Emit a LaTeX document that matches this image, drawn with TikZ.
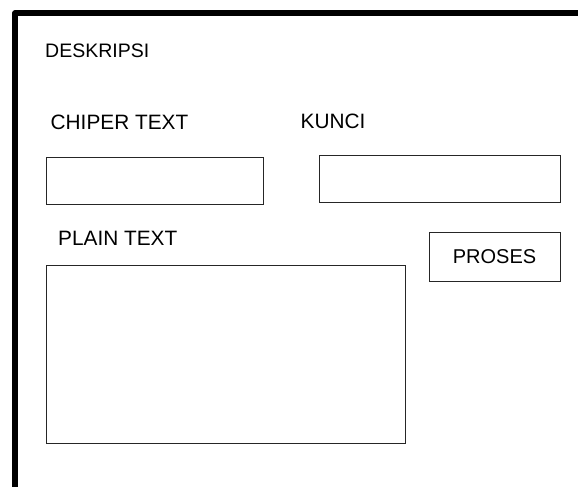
\documentclass[tikz,border=0pt]{standalone}
\usepackage{fontspec}
\setmainfont{Liberation Sans}
\begin{document}
\begin{tikzpicture}[x=1pt,y=-1pt,
  field/.style={draw=black!85,line width=0.9pt},
  lbl/.style={anchor=base west,inner sep=0pt,font=\fontsize{20.8}{24}\selectfont},
  btn/.style={draw=black!85,line width=0.9pt,inner sep=0pt,font=\fontsize{20}{24}\selectfont}]
\useasboundingbox[fill=white] (0,0) rectangle (578,487);
\draw[line width=5.6pt,line join=round] (15,487) -- (15,13) -- (578,13);
\node[lbl,font=\fontsize{19.5}{24}\selectfont] (deskripsi) at (45,58) {DESKRIPSI};
\node[lbl] (chiperlbl) at (50.5,129) {CHIPER TEXT};
\node[lbl] (kuncilbl) at (300.5,128.7) {KUNCI};
\node[lbl] (plainlbl) at (58,245) {PLAIN TEXT};
\draw[field] (46,157) rectangle (263,204);
\draw[field] (319,155) rectangle (560,202);
\draw[field] (46,265) rectangle (405,443);
\node[btn,minimum width=131pt,minimum height=49pt] (proses) at (494.5,256.5) {PROSES};
\end{tikzpicture}
\end{document}
